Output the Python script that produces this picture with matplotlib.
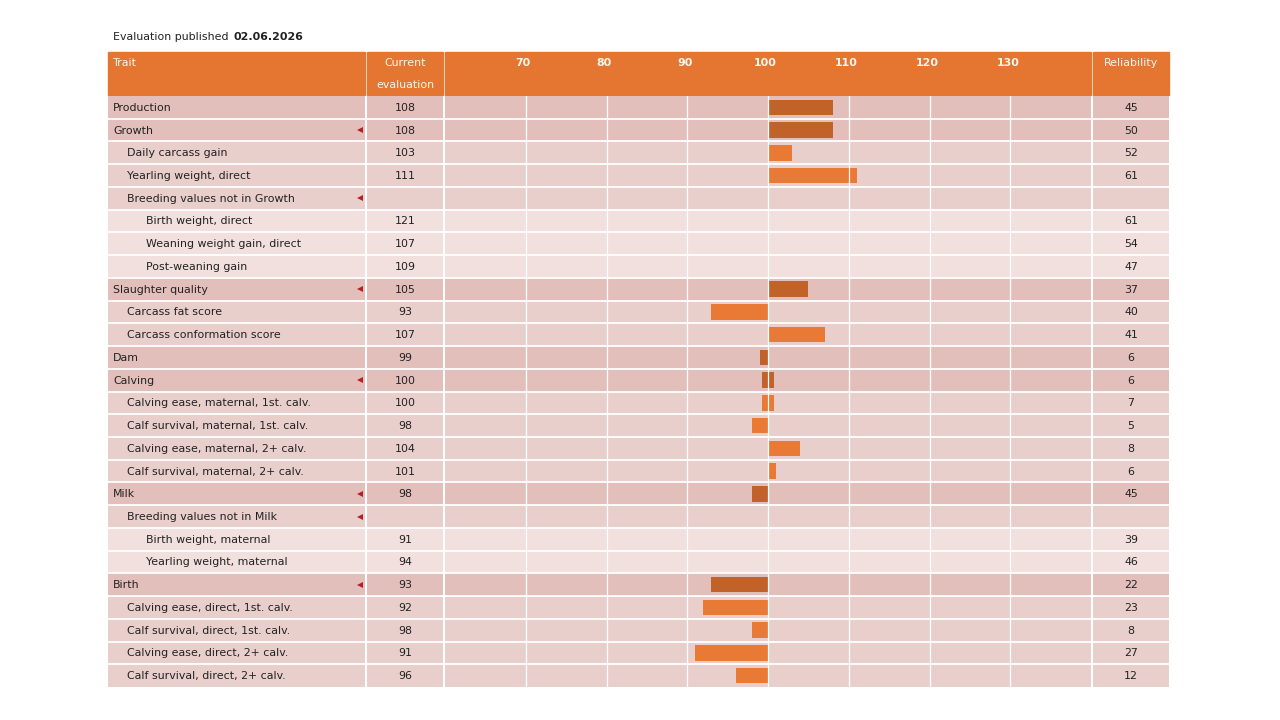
import matplotlib
matplotlib.use("Agg")
import matplotlib.pyplot as plt
import matplotlib.transforms as mtransforms
from matplotlib.patches import Rectangle

# ---------------- data ----------------
traits = [
    "Production", "Growth", "Daily carcass gain", "Yearling weight, direct",
    "Breeding values not in Growth", "Birth weight, direct",
    "Weaning weight gain, direct", "Post-weaning gain", "Slaughter quality",
    "Carcass fat score", "Carcass conformation score", "Dam", "Calving",
    "Calving ease, maternal, 1st. calv.", "Calf survival, maternal, 1st. calv.",
    "Calving ease, maternal, 2+ calv.", "Calf survival, maternal, 2+ calv.",
    "Milk", "Breeding values not in Milk", "Birth weight, maternal",
    "Yearling weight, maternal", "Birth", "Calving ease, direct, 1st. calv.",
    "Calf survival, direct, 1st. calv.", "Calving ease, direct, 2+ calv.",
    "Calf survival, direct, 2+ calv.",
]
levels = [0, 0, 1, 1, 1, 2, 2, 2, 0, 1, 1, 0, 0, 1, 1, 1, 1, 0, 1, 2, 2, 0, 1, 1, 1, 1]
current = [108, 108, 103, 111, None, 121, 107, 109, 105, 93, 107, 99, 100,
           100, 98, 104, 101, 98, None, 91, 94, 93, 92, 98, 91, 96]
reliability = [45, 50, 52, 61, None, 61, 54, 47, 37, 40, 41, 6, 6, 7, 5, 8, 6,
               45, None, 39, 46, 22, 23, 8, 27, 12]
expandable = [False, True, False, False, True, False, False, False, True,
              False, False, False, True, False, False, False, False, True,
              True, False, False, True, False, False, False, False]
show_bar = [True, True, True, True, False, False, False, False, True, True,
            True, True, True, True, True, True, True, True, False, False,
            False, True, True, True, True, True]
axis_ticks = [70, 80, 90, 100, 110, 120, 130]
published = "02.06.2026"

# ---------------- style ----------------
W, H = 1280, 720
ORANGE = "#E47632"
ROW_BG = {0: "#E3BFBC", 1: "#E9CFCC", 2: "#F1E0DE"}
BAR_C = {0: "#C0622A", 1: "#E87A35"}
TXT = "#222222"
HDR_TXT = "#FFF6EE"
FS = 7.9
plt.rcParams["font.family"] = ["DejaVu Sans"]

fig = plt.figure(figsize=(W / 100, H / 100), dpi=100)
fig.patch.set_facecolor("white")

n = len(traits)
row_top, row_bot = 96, 687
hdr_top = 52

def fx(px):
    return px / W

def fy(py):
    return 1 - py / H

def col_axes(x0, x1):
    ax = fig.add_axes([fx(x0), fy(row_bot), fx(x1) - fx(x0), fy(row_top) - fy(row_bot)])
    ax.set_ylim(n, 0)
    for s in ax.spines.values():
        s.set_visible(False)
    ax.set_xticks([])
    ax.set_yticks([])
    ax.patch.set_alpha(0)
    return ax

cols = [(108, 365), (367, 443), (445, 1091), (1093, 1169)]

# header background
for x0, x1 in cols:
    fig.patches.append(Rectangle((fx(x0), fy(95)), fx(x1) - fx(x0), fy(hdr_top) - fy(95),
                                 transform=fig.transFigure, color=ORANGE, zorder=-1))

t0 = fig.text(fx(113), fy(37), "Evaluation published ", fontsize=FS, color=TXT,
              va="center", ha="left")
fig.canvas.draw()
bb = t0.get_window_extent()
fig.text(bb.x1 / W + 2 / W, fy(37), published, fontsize=FS, color=TXT, va="center",
         ha="left", fontweight="bold")

fig.text(fx(113), fy(63), "Trait", fontsize=FS, color=HDR_TXT, va="center", ha="left")
fig.text(fx(405), fy(63), "Current", fontsize=FS, color=HDR_TXT, va="center", ha="center")
fig.text(fx(405), fy(85), "evaluation", fontsize=FS, color=HDR_TXT, va="center", ha="center")
fig.text(fx(1131), fy(63), "Reliability", fontsize=FS, color=HDR_TXT, va="center", ha="center")

ax_t = col_axes(*cols[0])
ax_c = col_axes(*cols[1])
ax_b = col_axes(*cols[2])
ax_r = col_axes(*cols[3])

for ax in (ax_t, ax_c, ax_r):
    ax.set_xlim(0, 1)
ax_b.set_xlim(60, 140)

for ax in (ax_t, ax_c, ax_b, ax_r):
    for i, lv in enumerate(levels):
        ax.axhspan(i, i + 1, color=ROW_BG[lv], lw=0, zorder=0)
    for i in range(1, n):
        ax.axhline(i, color="white", lw=1.3, zorder=4)

indent = {0: 5, 1: 19, 2: 38}
tw = cols[0][1] - cols[0][0]
for i, (name, lv) in enumerate(zip(traits, levels)):
    ax_t.text(indent[lv] / tw, i + 0.52, name, fontsize=FS, color=TXT, va="center", ha="left")
    if expandable[i]:
        ax_t.plot([(tw - 5) / tw], [i + 0.5], marker="<", ms=5, color="#B81E28",
                  mew=0, ls="none")
for i, v in enumerate(current):
    if v is not None:
        ax_c.text(0.5, i + 0.52, str(v), fontsize=FS, color=TXT, va="center", ha="center")
for i, v in enumerate(reliability):
    if v is not None:
        ax_r.text(0.5, i + 0.52, str(v), fontsize=FS, color=TXT, va="center", ha="center")

# bars
ys, lefts, widths, colors = [], [], [], []
for i, v in enumerate(current):
    if not show_bar[i] or v is None:
        continue
    if v == 100:
        lefts.append(99.2)
        widths.append(1.6)
    else:
        lefts.append(100)
        widths.append(v - 100)
    ys.append(i + 0.5)
    colors.append(BAR_C[levels[i]])
ax_b.barh(ys, widths, left=lefts, height=0.68, color=colors, zorder=2)

for t in axis_ticks:
    ax_b.axvline(t, color="white", lw=0.9, zorder=3)

ax_b.xaxis.tick_top()
ax_b.set_xticks(axis_ticks)
ax_b.set_xticklabels([str(t) for t in axis_ticks], fontsize=FS, fontweight="bold", color=HDR_TXT)
ax_b.tick_params(axis="x", length=0, pad=20)
shift = mtransforms.ScaledTranslation(-2.5 / 100, 0, fig.dpi_scale_trans)
for lbl in ax_b.get_xticklabels():
    lbl.set_transform(lbl.get_transform() + shift)

fig.savefig("out.png", dpi=100, facecolor="white")
